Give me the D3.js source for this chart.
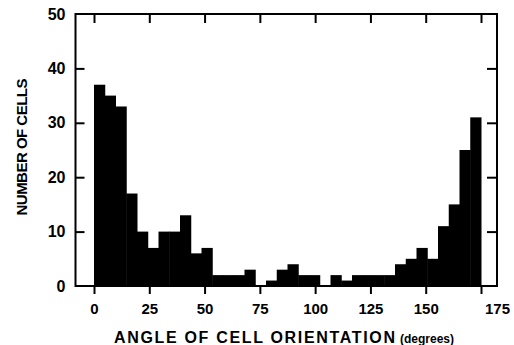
<!DOCTYPE html>
<html>
<head>
<meta charset="utf-8">
<script src="https://cdn.jsdelivr.net/npm/d3@7"></script>
<style>
  body { margin: 0; background: #fff; }
  svg text { font-family: "Liberation Sans", Arial, Helvetica, sans-serif; font-weight: bold; fill: #000; }
</style>
</head>
<body>
<svg id="histogram" width="514" height="345"></svg>
<script>
// number of cells in each orientation bin (bins run left to right across 0-175 degrees)
let cellCounts = [37, 35, 33, 17, 10, 7, 10, 10, 13, 6, 7, 2, 2, 2, 3, 0, 1, 3,
                  4, 2, 2, 0, 2, 1, 2, 2, 2, 2, 4, 5, 7, 5, 11, 15, 25, 31]
let angleTicks = [0, 25, 50, 75, 100, 125, 150, 175]
let countTicks = [0, 10, 20, 30, 40, 50]
let angleRange = [0, 175]

let svg = d3.select("#histogram")
let width = 514, height = 345
let margin = { top: 14, right: 17, bottom: 59, left: 75.5 }

// plot box (frame)
let box = { left: margin.left, right: width - margin.right, top: margin.top, bottom: height - margin.bottom }

let x = d3.scaleLinear()
    .domain(angleRange)
    .range([94, 481])

let y = d3.scaleLinear()
    .domain([0, 50])
    .range([box.bottom, box.top])

let binWidth = (angleRange[1] - angleRange[0]) / cellCounts.length

// bars
svg.append("g")
  .selectAll("rect")
  .data(cellCounts)
  .enter()
  .append("rect")
    .attr("x", (d, i) => x(angleRange[0] + i * binWidth))
    .attr("width", (d, i) => x(angleRange[0] + (i + 1) * binWidth) - x(angleRange[0] + i * binWidth) + 0.5)
    .attr("y", d => y(d))
    .attr("height", d => y(0) - y(d))
    .style("fill", "#000")

// axes
let leftAxis = svg.append("g")
    .attr("transform", `translate(${box.left},0)`)
    .call(d3.axisLeft(y).tickValues(countTicks).tickSize(-9).tickPadding(10))

let rightAxis = svg.append("g")
    .attr("transform", `translate(${box.right},0)`)
    .call(d3.axisRight(y).tickValues(countTicks).tickSize(-10).tickFormat(""))

let bottomAxis = svg.append("g")
    .attr("transform", `translate(0,${box.bottom})`)
    .call(d3.axisBottom(x).tickValues(angleTicks).tickSize(8).tickPadding(9))

let topAxis = svg.append("g")
    .attr("transform", `translate(0,${box.top})`)
    .call(d3.axisTop(x).tickValues(angleTicks).tickSize(-9).tickFormat(""))

svg.selectAll(".domain").remove()
svg.selectAll(".tick line").style("stroke", "#000").style("stroke-width", 2)
svg.selectAll(".tick text").style("font-size", "15px").style("font-family", null)
leftAxis.selectAll(".tick text").style("font-size", "16px")
// the last angle label sits right of its tick in the original
bottomAxis.selectAll(".tick").filter(d => d === 175).select("text").attr("dx", 16)
// drop end ticks that sit on the frame corners
leftAxis.selectAll(".tick").filter(d => d === 0 || d === 50).select("line").remove()
rightAxis.selectAll(".tick").filter(d => d === 0 || d === 50).select("line").remove()

// frame
svg.append("rect")
  .attr("x", box.left)
  .attr("y", box.top)
  .attr("width", box.right - box.left)
  .attr("height", box.bottom - box.top)
  .style("fill", "none")
  .style("stroke", "#000")
  .style("stroke-width", 2)

// axis titles
let xTitle = svg.append("text")
  .attr("x", 114)
  .attr("y", 343)
  .style("font-size", "16px")
xTitle.append("tspan").text("ANGLE OF CELL ORIENTATION").attr("textLength", 281)
xTitle.append("tspan").text(" (degrees)").style("font-size", "12px")

svg.append("text")
  .attr("transform", "translate(27,147) rotate(-90)")
  .attr("text-anchor", "middle")
  .attr("textLength", 137)
  .style("font-size", "15px")
  .text("NUMBER OF CELLS")
</script>
</body>
</html>
